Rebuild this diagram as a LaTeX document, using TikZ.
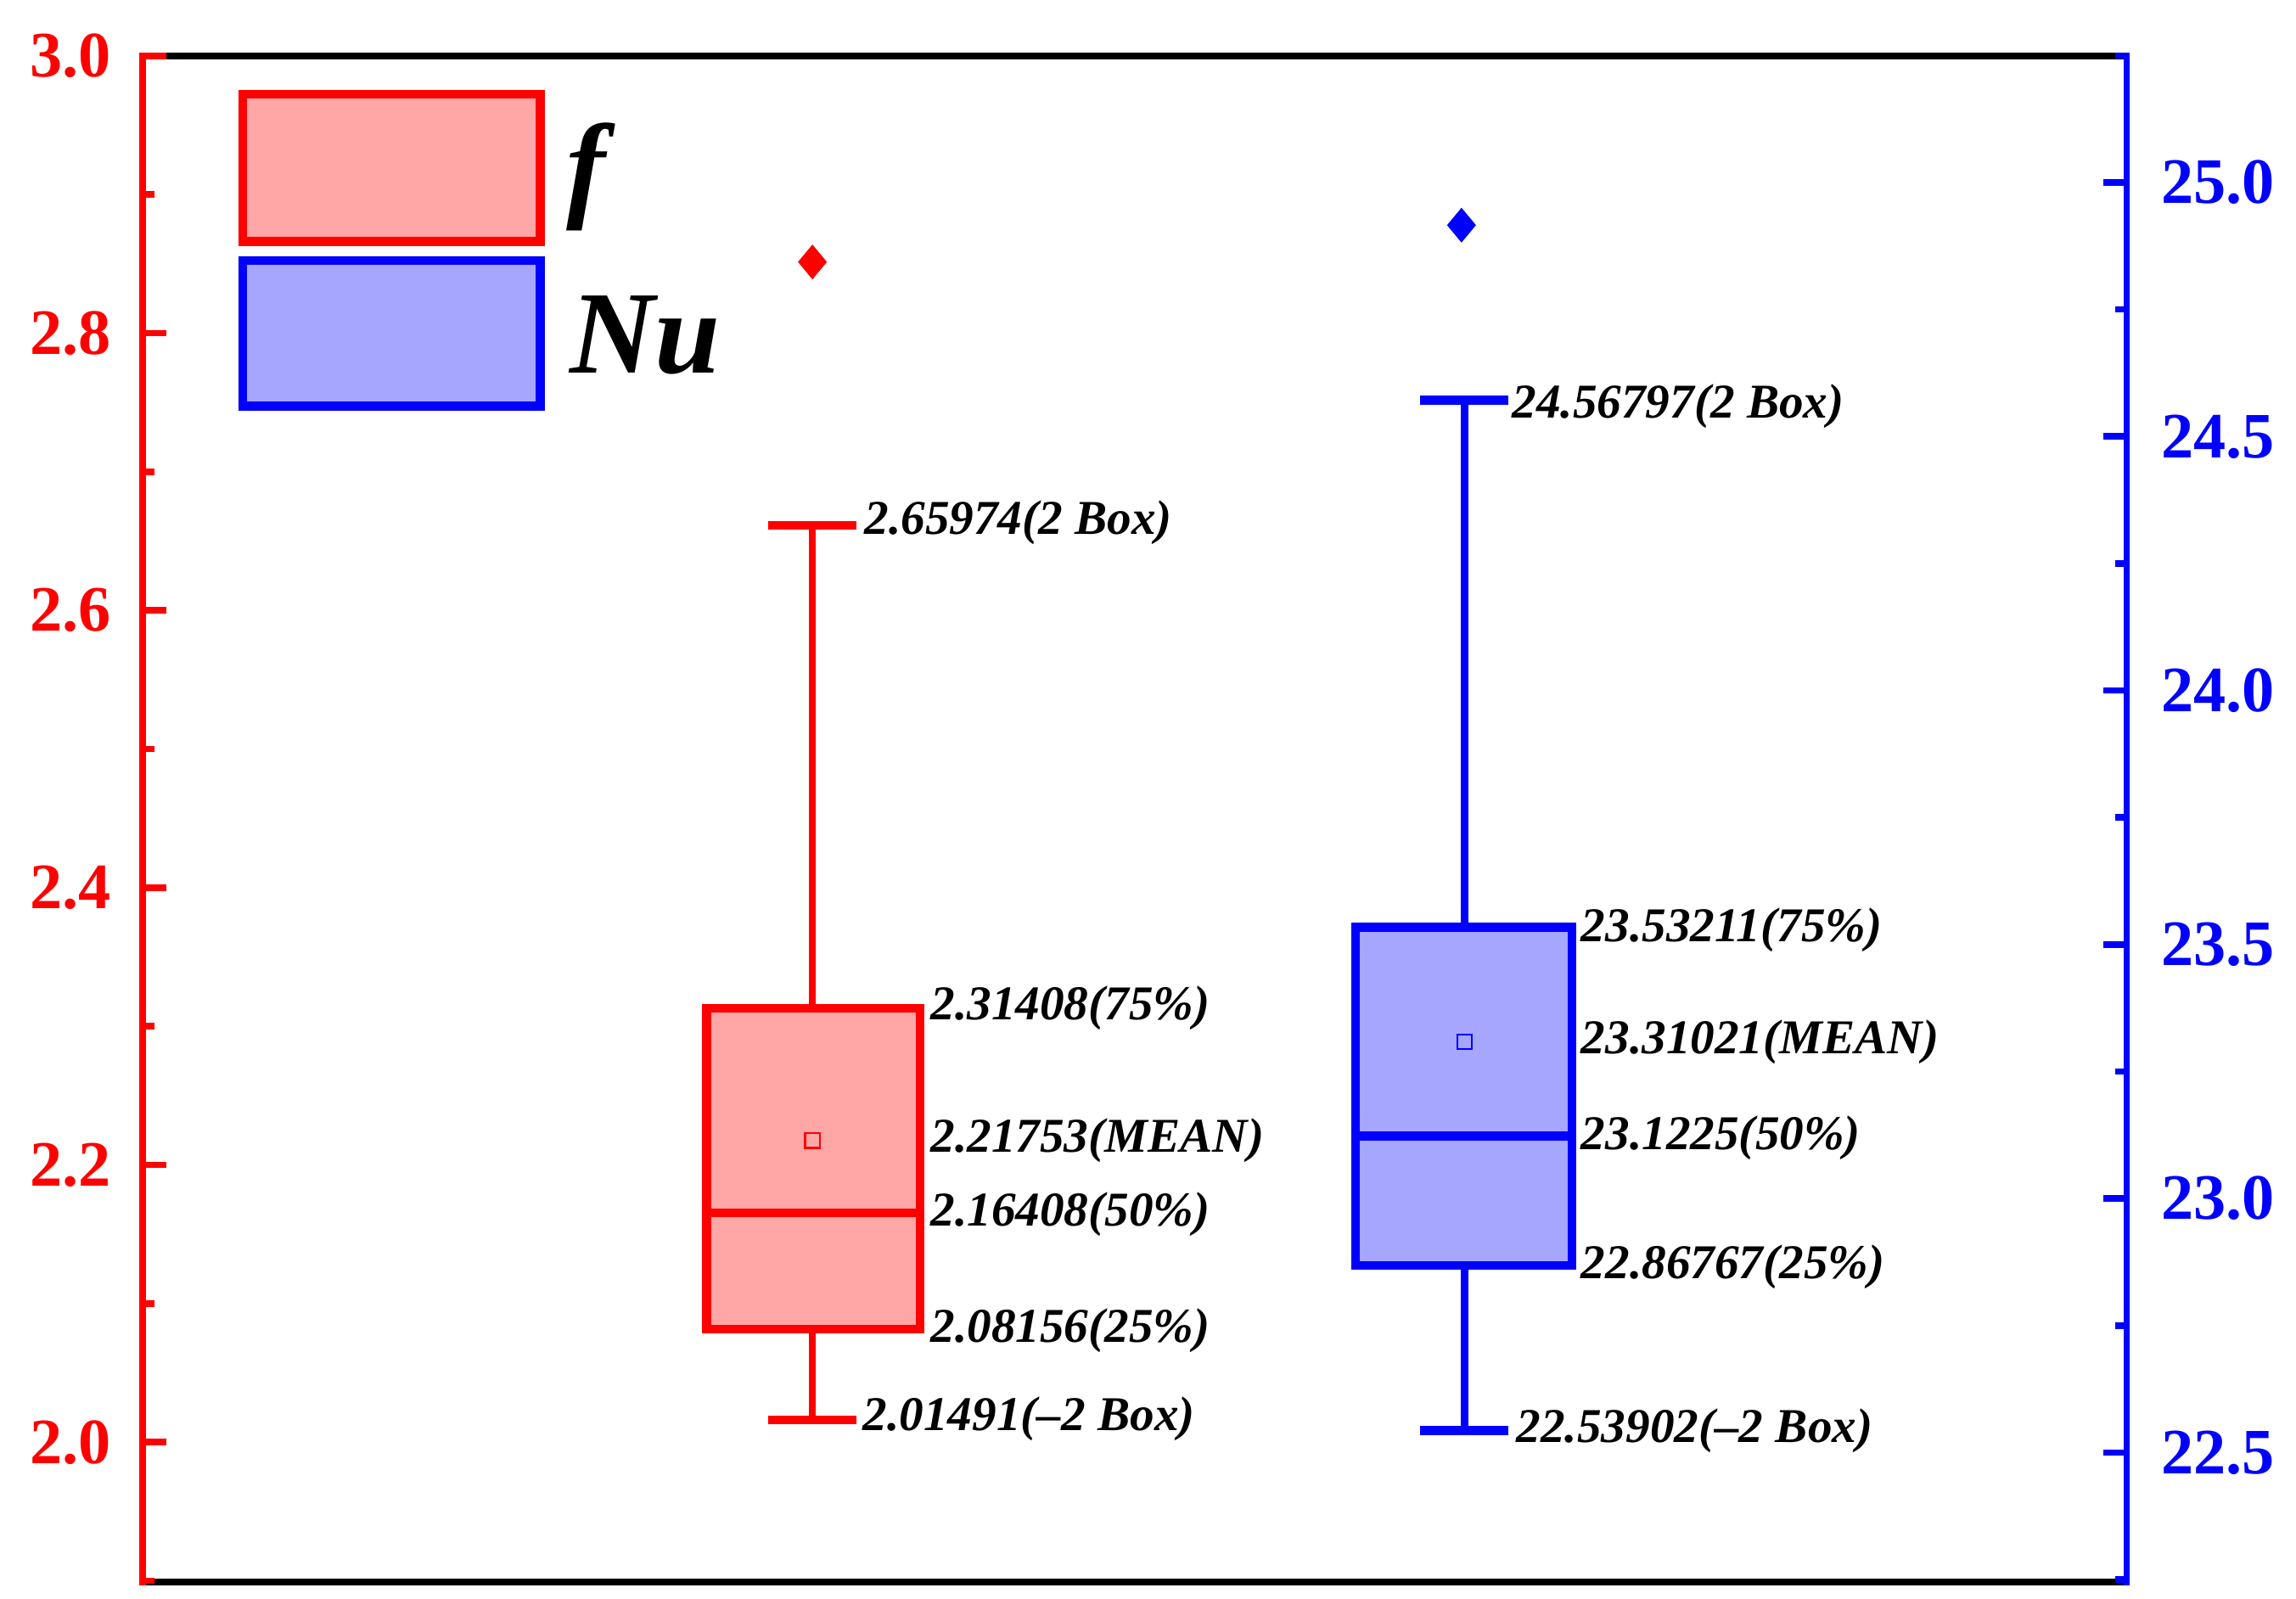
\documentclass[tikz,border=0pt]{standalone}
\usepackage{fontspec}
\setmainfont{Liberation Serif}
\usetikzlibrary{shapes.geometric}
\definecolor{rfill}{RGB}{255,166,166}
\definecolor{bfill}{RGB}{166,166,255}
\begin{document}
\begin{tikzpicture}[x=0.5pt,y=-0.5pt,
  boxs/.style={line width=3pt},
  whis/.style={line width=2.5pt},
  lab/.style={anchor=west,font=\fontsize{16.5}{16.5}\selectfont\bfseries\itshape,inner sep=1pt},
  tl/.style={font=\fontsize{22}{22}\selectfont\bfseries,inner sep=0pt},
  dia/.style={diamond,inner sep=0pt,minimum width=10pt,minimum height=12pt}]
\useasboundingbox (0,0) rectangle (1560,1086);
% frame
\draw[line width=2.2pt] (95,38) -- (1447,38);
\draw[line width=2.2pt] (95,1075) -- (1447,1075);
\draw[red,line width=2.2pt] (97,36) -- (97,1077);
\draw[blue,line width=2.2pt] (1445,36) -- (1445,1077);
% left ticks
\foreach \v/\t in {3.0/3.0,2.8/2.8,2.6/2.6,2.4/2.4,2.2/2.2,2.0/2.0}{
  \pgfmathsetmacro{\yy}{38+(3.0-\v)*942}
  \draw[red,line width=2.2pt] (97,\yy) -- (113,\yy);
  \node[tl,red,anchor=east] (l\t) at (76,\yy) {\t};}
\foreach \v in {2.9,2.7,2.5,2.3,2.1,1.9}{
  \pgfmathsetmacro{\yy}{38+(3.0-\v)*942}
  \draw[red,line width=2.2pt] (97,\yy) -- (105,\yy);}
% right ticks
\foreach \v/\t in {25.0/25.0,24.5/24.5,24.0/24.0,23.5/23.5,23.0/23.0,22.5/22.5}{
  \pgfmathsetmacro{\yy}{124+(25.0-\v)*345.2}
  \draw[blue,line width=2.2pt] (1445,\yy) -- (1429,\yy);
  \node[tl,blue,anchor=west] (r\t) at (1468,\yy) {\t};}
\foreach \v in {25.25,24.75,24.25,23.75,23.25,22.75,22.25}{
  \pgfmathsetmacro{\yy}{124+(25.0-\v)*345.2}
  \draw[blue,line width=2.2pt] (1445,\yy) -- (1437,\yy);}
% legend
\draw[red,boxs,fill=rfill] (165,64) rectangle (367,164);
\draw[blue,boxs,fill=bfill] (165,177) rectangle (367,276);
\node[anchor=west,font=\fontsize{40}{40}\selectfont\bfseries\itshape] (lf) at (378,120) {f};
\node[anchor=west,font=\fontsize{40}{40}\selectfont\bfseries\itshape] (lnu) at (380,228) {Nu};
% red box
\coordinate (rt) at (552,357); \coordinate (rb) at (552,965);
\draw[red,whis] (rt) -- (552,685);
\draw[red,whis] (552,903) -- (rb);
\draw[red,line width=3pt] (522,357) -- (582,357);
\draw[red,line width=3pt] (522,965) -- (582,965);
\draw[red,boxs,fill=rfill] (480,685) rectangle (625,903);
\draw[red,boxs] (480,824) -- (625,824);
\draw[red,line width=0.6pt] (547,770) rectangle (557,780);
\node[dia,fill=red] (ro) at (552,178) {};
\node[lab] at (585,355) {2.65974(2 Box)};
\node[lab] at (630,685) {2.31408(75\%)};
\node[lab] at (630,775) {2.21753(MEAN)};
\node[lab] at (630,825) {2.16408(50\%)};
\node[lab] at (630,904) {2.08156(25\%)};
\node[lab] at (584,964) {2.01491(--2 Box)};
% blue box
\coordinate (bt) at (995,272); \coordinate (bb) at (995,972);
\draw[blue,whis] (bt) -- (995,630);
\draw[blue,whis] (995,860) -- (bb);
\draw[blue,line width=3pt] (965,272) -- (1025,272);
\draw[blue,line width=3pt] (965,972) -- (1025,972);
\draw[blue,boxs,fill=bfill] (921,630) rectangle (1068,860);
\draw[blue,boxs] (921,772) -- (1068,772);
\draw[blue,line width=0.6pt] (990,703) rectangle (1000,713);
\node[dia,fill=blue] (bo) at (993,153) {};
\node[lab] at (1025,276) {24.56797(2 Box)};
\node[lab] at (1072,632) {23.53211(75\%)};
\node[lab] at (1072,708) {23.31021(MEAN)};
\node[lab] at (1072,773) {23.1225(50\%)};
\node[lab] at (1072,861) {22.86767(25\%)};
\node[lab] at (1028,972) {22.53902(--2 Box)};
\end{tikzpicture}
\end{document}
